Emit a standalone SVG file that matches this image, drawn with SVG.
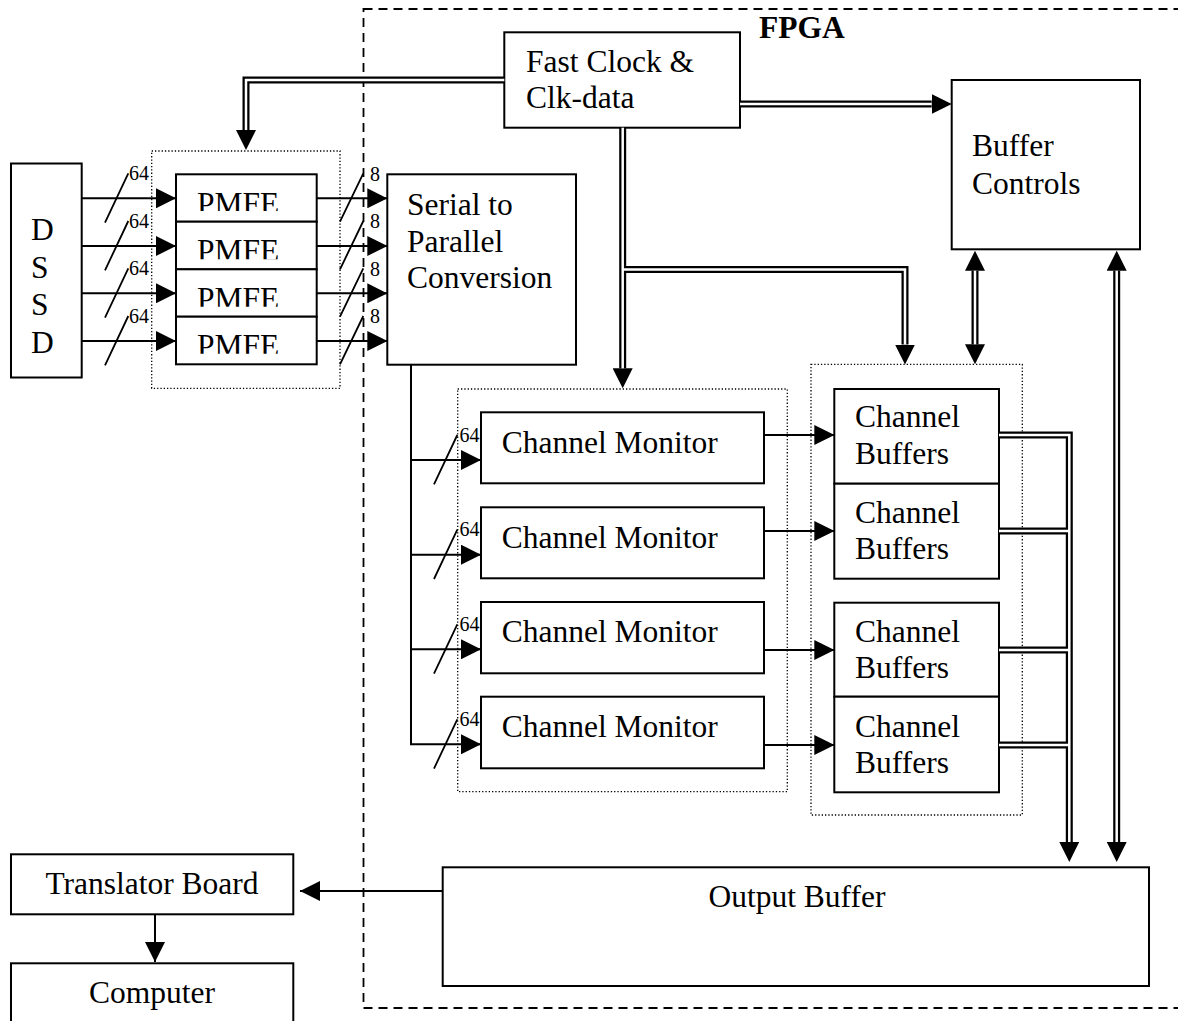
<svg xmlns="http://www.w3.org/2000/svg" width="1178" height="1021" viewBox="0 0 1178 1021">
<style>
text{font-family:"Liberation Serif","Times New Roman",serif;font-size:31.5px;fill:#000}
.sm{font-size:20px}
.b{font-weight:bold}
.box{fill:#fff;stroke:#000;stroke-width:2}
.dot{fill:none;stroke:#000;stroke-width:1.3;stroke-dasharray:1.3 2}
.dash{fill:none;stroke:#000;stroke-width:1.8;stroke-dasharray:9 6}
.ln{fill:none;stroke:#000;stroke-width:2}
.dk{fill:none;stroke:#000;stroke-width:7}
.wt{fill:none;stroke:#fff;stroke-width:2.5}
.sl{fill:none;stroke:#000;stroke-width:1.8}
</style>
<defs>
<marker id="sh" viewBox="0 0 20 20" markerWidth="20" markerHeight="20" refX="20" refY="10" markerUnits="userSpaceOnUse" orient="auto"><path d="M0,0 L20,10 L0,20 z" fill="#000"/></marker>
<marker id="dh" viewBox="0 0 20 20" markerWidth="20" markerHeight="20" refX="0" refY="10" markerUnits="userSpaceOnUse" orient="auto-start-reverse"><path d="M0,0 L20,10 L0,20 z" fill="#000"/></marker>
<clipPath id="c1"><rect x="176" y="174" width="141" height="37"/></clipPath>
<clipPath id="c2"><rect x="176" y="221.7" width="141" height="37.5"/></clipPath>
<clipPath id="c3"><rect x="176" y="269.3" width="141" height="37.4"/></clipPath>
<clipPath id="c4"><rect x="176" y="316.7" width="141" height="37"/></clipPath>
</defs>

<g id="fpga">
<rect class="dash" x="363.5" y="9" width="900" height="999"/>
<text class="b" x="759" y="37.5">FPGA</text>
</g>

<g id="dssd">
<rect class="box" x="11" y="163.5" width="70.7" height="214"/>
<text x="31" y="240">D</text>
<text x="31" y="277.5">S</text>
<text x="31" y="315">S</text>
<text x="31" y="352.5">D</text>
</g>

<g id="pmfe">
<rect class="dot" x="151.7" y="151" width="188.3" height="237.3"/>
<rect class="box" x="176" y="174.3" width="140.7" height="47.4"/>
<rect class="box" x="176" y="221.7" width="140.7" height="47.6"/>
<rect class="box" x="176" y="269.3" width="140.7" height="47.4"/>
<rect class="box" x="176" y="316.7" width="140.7" height="47.6"/>
<text x="197" y="214" clip-path="url(#c1)">PMFE</text>
<text x="197" y="261.4" clip-path="url(#c2)">PMFE</text>
<text x="197" y="309" clip-path="url(#c3)">PMFE</text>
<text x="197" y="356.4" clip-path="url(#c4)">PMFE</text>
</g>

<g id="serial">
<rect class="box" x="387.3" y="174.3" width="188.7" height="190.4"/>
<text x="407" y="215">Serial to</text>
<text x="407" y="251.7">Parallel</text>
<text x="407" y="288.3">Conversion</text>
</g>

<g id="fastclock">
<rect class="box" x="504.3" y="32.3" width="235.7" height="95.4"/>
<text x="526" y="72.3">Fast Clock &amp;</text>
<text x="526" y="108.3">Clk-data</text>
</g>

<g id="buffercontrols">
<rect class="box" x="951.7" y="80" width="188.3" height="169.3"/>
<text x="972" y="156">Buffer</text>
<text x="972" y="194">Controls</text>
</g>

<g id="channelmonitors">
<rect class="dot" x="457.7" y="389" width="329.6" height="402.7"/>
<rect class="box" x="481" y="412.3" width="283" height="71"/>
<rect class="box" x="481" y="507.3" width="283" height="71"/>
<rect class="box" x="481" y="602" width="283" height="71.3"/>
<rect class="box" x="481" y="696.7" width="283" height="71.6"/>
<text x="501.7" y="453.3">Channel Monitor</text>
<text x="501.7" y="547.7">Channel Monitor</text>
<text x="501.7" y="642.3">Channel Monitor</text>
<text x="501.7" y="737.3">Channel Monitor</text>
</g>

<g id="channelbuffers">
<rect class="dot" x="811" y="364.3" width="211.3" height="450.7"/>
<rect class="box" x="834.3" y="389" width="164.7" height="94.7"/>
<rect class="box" x="834.3" y="483.7" width="164.7" height="95"/>
<rect class="box" x="834.3" y="602.7" width="164.7" height="94"/>
<rect class="box" x="834.3" y="696.7" width="164.7" height="95.6"/>
<text x="855" y="427.3">Channel</text>
<text x="855" y="464">Buffers</text>
<text x="855" y="522.7">Channel</text>
<text x="855" y="559.3">Buffers</text>
<text x="855" y="641.7">Channel</text>
<text x="855" y="678.3">Buffers</text>
<text x="855" y="736.7">Channel</text>
<text x="855" y="773.4">Buffers</text>
</g>

<g id="outputbuffer">
<rect class="box" x="442.7" y="867.3" width="706.3" height="118.7"/>
<text x="797" y="907" text-anchor="middle">Output Buffer</text>
</g>

<g id="translator">
<rect class="box" x="11" y="854.3" width="282.3" height="60"/>
<text x="152" y="894.3" text-anchor="middle">Translator Board</text>
</g>

<g id="computer">
<rect class="box" x="11" y="963.3" width="282.3" height="80"/>
<text x="152" y="1003.3" text-anchor="middle">Computer</text>
</g>

<g id="connectors">
<!-- DSSD to PMFE -->
<path class="ln" d="M81.7,198.3 H176" marker-end="url(#sh)"/>
<path class="ln" d="M81.7,246 H176" marker-end="url(#sh)"/>
<path class="ln" d="M81.7,293.3 H176" marker-end="url(#sh)"/>
<path class="ln" d="M81.7,341 H176" marker-end="url(#sh)"/>
<path class="sl" d="M105,222.7 L128.3,173.3 M105,270.4 L128.3,221 M105,317.7 L128.3,268.3 M105,365.4 L128.3,316"/>
<text class="sm" x="129" y="180.3">64</text>
<text class="sm" x="129" y="228">64</text>
<text class="sm" x="129" y="275.3">64</text>
<text class="sm" x="129" y="323">64</text>
<!-- PMFE to Serial -->
<path class="ln" d="M316.7,198.3 H387.3" marker-end="url(#sh)"/>
<path class="ln" d="M316.7,246 H387.3" marker-end="url(#sh)"/>
<path class="ln" d="M316.7,293.3 H387.3" marker-end="url(#sh)"/>
<path class="ln" d="M316.7,341 H387.3" marker-end="url(#sh)"/>
<path class="sl" d="M340,221.7 L363.3,173.3 M340,269.4 L363.3,221 M340,316.7 L363.3,268.3 M340,364.4 L363.3,316"/>
<text class="sm" x="370" y="180.6">8</text>
<text class="sm" x="370" y="228.3">8</text>
<text class="sm" x="370" y="275.6">8</text>
<text class="sm" x="370" y="323.3">8</text>
<!-- Serial to Channel Monitors -->
<path class="ln" d="M411,364.7 V744.3 H481" marker-end="url(#sh)"/>
<path class="ln" d="M411,460 H481" marker-end="url(#sh)"/>
<path class="ln" d="M411,554.7 H481" marker-end="url(#sh)"/>
<path class="ln" d="M411,649.3 H481" marker-end="url(#sh)"/>
<path class="sl" d="M434,484.3 L457.3,435 M434,579 L457.3,529.7 M434,673.6 L457.3,624.3 M434,768.6 L457.3,719.3"/>
<text class="sm" x="459.5" y="441.7">64</text>
<text class="sm" x="459.5" y="536.4">64</text>
<text class="sm" x="459.5" y="631">64</text>
<text class="sm" x="459.5" y="726">64</text>
<!-- Channel Monitor to Channel Buffers -->
<path class="ln" d="M764,435 H834.3" marker-end="url(#sh)"/>
<path class="ln" d="M764,531 H834.3" marker-end="url(#sh)"/>
<path class="ln" d="M764,650 H834.3" marker-end="url(#sh)"/>
<path class="ln" d="M764,745 H834.3" marker-end="url(#sh)"/>
<!-- Output to Translator, Translator to Computer -->
<path class="ln" d="M442.7,891 H300" marker-end="url(#sh)"/>
<path class="ln" d="M155,914.3 V962" marker-end="url(#sh)"/>
<!-- double-line buses: black layer -->
<path class="dk" d="M504.3,80 H246 V130" marker-end="url(#dh)"/>
<path class="dk" d="M740,104 H931.7" marker-end="url(#dh)"/>
<path class="dk" d="M622.7,127.7 V368.3" marker-end="url(#dh)"/>
<path class="dk" d="M622.7,269.5 H905 V344.5" marker-end="url(#dh)"/>
<path class="dk" d="M975,270.7 V344.3" marker-start="url(#dh)" marker-end="url(#dh)"/>
<path class="dk" d="M1116.7,270.7 V842" marker-start="url(#dh)" marker-end="url(#dh)"/>
<path class="dk" d="M999,435 H1069.3 V842" marker-end="url(#dh)"/>
<path class="dk" d="M999,531 H1069.3 M999,650 H1069.3 M999,745 H1069.3"/>
<!-- double-line buses: white core -->
<path class="wt" d="M504.3,80 H246 V130"/>
<path class="wt" d="M740,104 H931.7"/>
<path class="wt" d="M622.7,127.7 V368.3"/>
<path class="wt" d="M622.7,269.5 H905 V344.5"/>
<path class="wt" d="M975,270.7 V344.3"/>
<path class="wt" d="M1116.7,270.7 V842"/>
<path class="wt" d="M999,435 H1069.3 V842"/>
<path class="wt" d="M999,531 H1069.3 M999,650 H1069.3 M999,745 H1069.3"/>
</g>
</svg>
